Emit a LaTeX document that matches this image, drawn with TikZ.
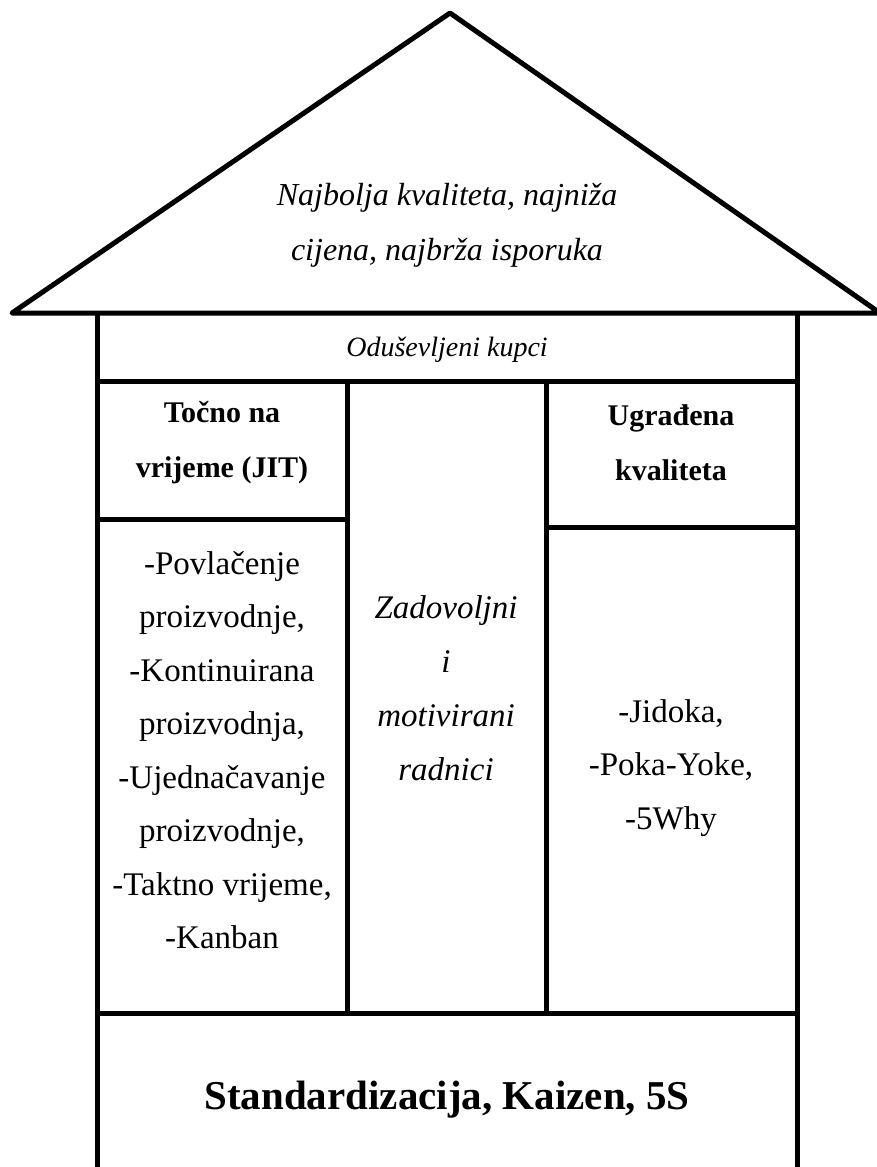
\documentclass[tikz,border=0pt]{standalone}
\usepackage{fontspec}
\setmainfont{Liberation Serif}
\begin{document}
\begin{tikzpicture}[x=1pt, y=-1pt,
	wall/.style={line width=5pt},
	plain/.style={align=center, font=\fontsize{33}{53.5}\selectfont},
	slanted/.style={align=center, font=\itshape\fontsize{32}{55}\selectfont},
	heading/.style={align=center, font=\bfseries\fontsize{30}{55}\selectfont}]
	\useasboundingbox (0,0) rectangle (877,1167);
	
	% krov
	\draw[wall, line join=round] (12,313) -- (450,13) -- (880,313) -- cycle;
	
	% zidovi i stupovi
	\foreach \x in {97, 797}
	\draw[wall] (\x,313) -- (\x,1167);
	\foreach \x in {347, 546}
	\draw[wall] (\x,381) -- (\x,1013);
	\draw[wall] (97,381) -- (797,381);
	\draw[wall] (97,519) -- (347,519);
	\draw[wall] (546,527) -- (797,527);
	\draw[wall] (97,1013) -- (797,1013);
	
	\node[slanted] (cilj) at (447,225) {Najbolja kvaliteta, najniža\\cijena, najbrža isporuka};
	\node[slanted, font=\itshape\fontsize{28}{34}\selectfont] (kupci) at (447,350) {Oduševljeni kupci};
	\node[heading] (jit) at (222,443) {Točno na\\vrijeme (JIT)};
	\node[heading] (ugradena) at (671,443) {Ugrađena\\kvaliteta};
	\node[plain] (jitlista) at (222,750) {-Povlačenje\\proizvodnje,\\-Kontinuirana\\proizvodnja,\\-Ujednačavanje\\proizvodnje,\\-Taktno vrijeme,\\-Kanban};
	\node[slanted, font=\itshape\fontsize{33}{54}\selectfont] (radnici) at (446,688) {Zadovoljni\\i\\motivirani\\radnici};
	\node[plain] (jidoka) at (671,768) {-Jidoka,\\-Poka-Yoke,\\-5Why};
	\node[font=\bfseries\fontsize{41}{47}\selectfont] (temelj) at (447,1100) {Standardizacija, Kaizen, 5S};
\end{tikzpicture}
\end{document}
